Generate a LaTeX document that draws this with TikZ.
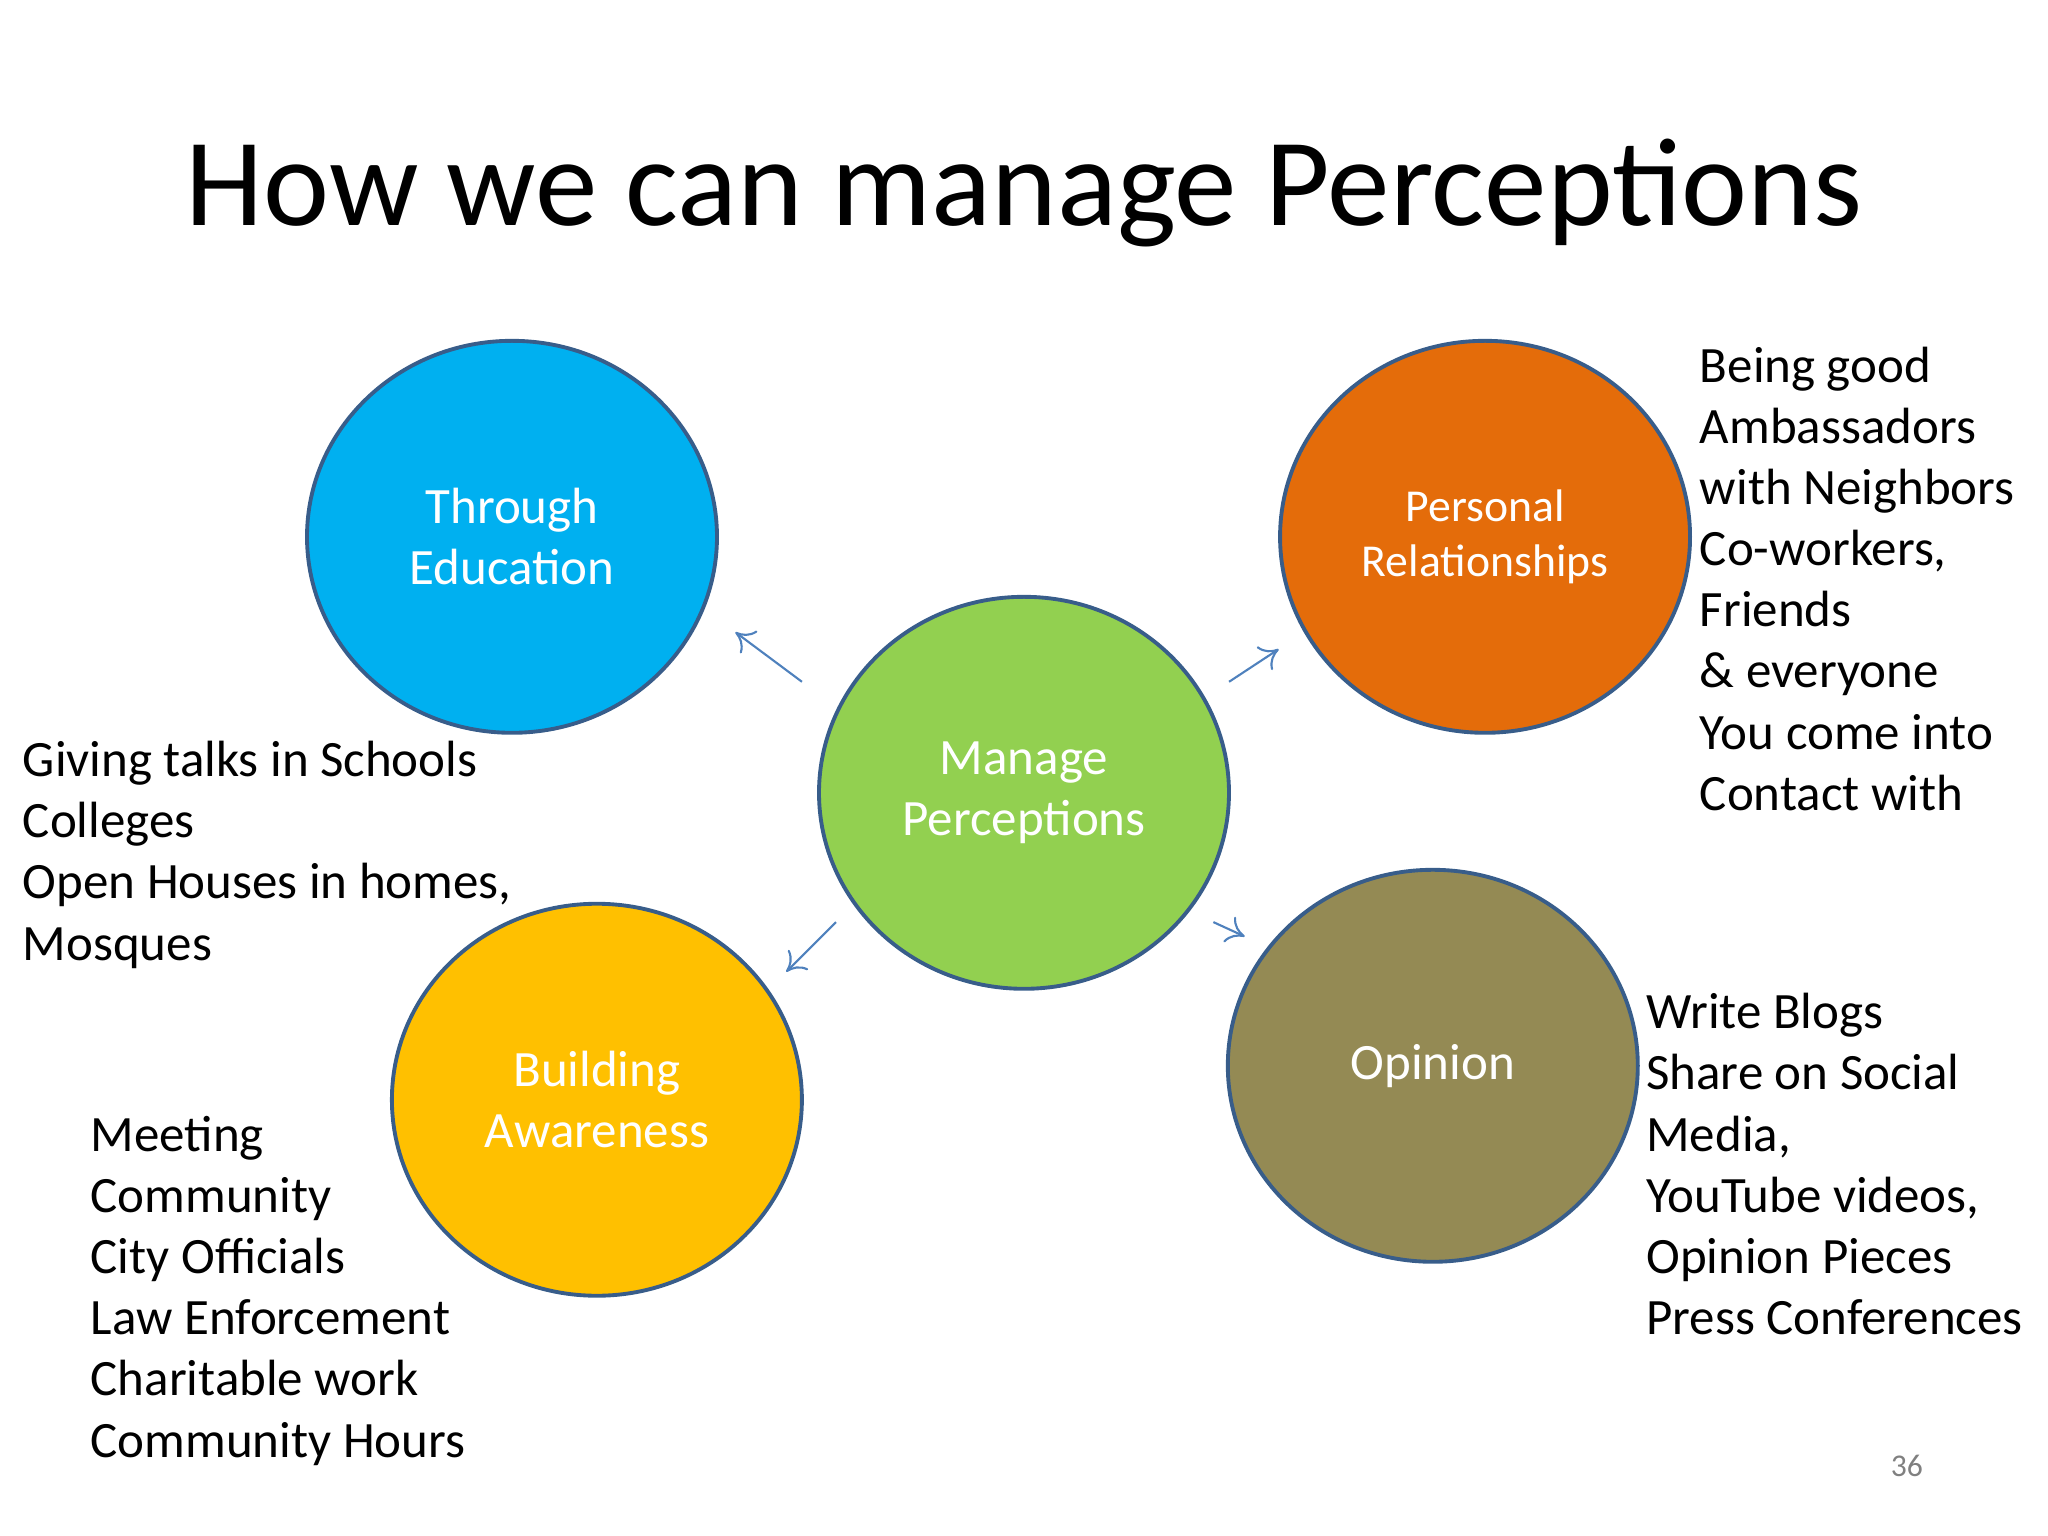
\documentclass[tikz,border=0pt]{standalone}
\usepackage{fontspec}
\setmainfont{Carlito}
\definecolor{cblue}{HTML}{00B0F0}
\definecolor{corange}{HTML}{E46C0A}
\definecolor{cgreen}{HTML}{92D050}
\definecolor{cyellow}{HTML}{FFC000}
\definecolor{colive}{HTML}{948A54}
\definecolor{cedge}{HTML}{385D8A}
\definecolor{carrow}{HTML}{4F81BD}
\begin{document}
\begin{tikzpicture}[x=0.01306cm,y=-0.01306cm,
  circ/.style={ellipse, draw=cedge, line width=1.1pt, minimum width=314\pgflinewidth, text=white, align=center, font=\fontsize{14.5}{17.4}\selectfont},
  body/.style={anchor=north west, align=left, font=\fontsize{14.5}{17.4}\selectfont},
  arr/.style={draw=carrow, line width=0.6pt, -{To[length=5pt,width=8pt]}}]
\usetikzlibrary{shapes.geometric,arrows.meta}
\useasboundingbox (0,0) rectangle (1568,1176);
\tikzset{el/.style={circ, ellipse, minimum width=4.1cm, minimum height=3.92cm, inner sep=0pt}}
\node[font=\fontsize{35.6}{40}\selectfont] (title) at (784,148) {How we can manage Perceptions};
\node[el, fill=cblue] (edu) at (392,411) {Through\\Education};
\node[el, fill=corange, font=\fontsize{13}{15.6}\selectfont] (pers) at (1137,411) {Personal\\Relationships};
\node[el, fill=cgreen] (man) at (784,607) {Manage\\Perceptions};
\node[el, fill=cyellow] (bld) at (457,842) {Building\\Awareness};
\node[el, fill=colive] (op) at (1097,816) {Opinion};
\coordinate (a1s) at (614,522); \coordinate (a1e) at (563,484);
\coordinate (a2s) at (941,522); \coordinate (a2e) at (979,497);
\coordinate (a3s) at (640,706); \coordinate (a3e) at (602,744);
\coordinate (a4s) at (929,706); \coordinate (a4e) at (953,717);
\draw[arr] (a1s) -- (a1e);
\draw[arr] (a2s) -- (a2e);
\draw[arr] (a3s) -- (a3e);
\draw[arr] (a4s) -- (a4e);
\node[body] (t1) at (8,558) {Giving talks in Schools\\Colleges\\Open Houses in homes,\\Mosques};
\node[body] (t2) at (1292,256) {Being good\\Ambassadors\\with Neighbors\\Co-workers,\\Friends\\\& everyone\\You come into\\Contact with};
\node[body] (t3) at (60,845) {Meeting\\Community\\City Officials\\Law Enforcement\\Charitable work\\Community Hours};
\node[body] (t4) at (1251,751) {Write Blogs\\Share on Social\\Media,\\YouTube videos,\\Opinion Pieces\\Press Conferences};
\node[text=gray, font=\fontsize{9}{11}\selectfont] (pg) at (1460,1122) {36};
\end{tikzpicture}
\end{document}
